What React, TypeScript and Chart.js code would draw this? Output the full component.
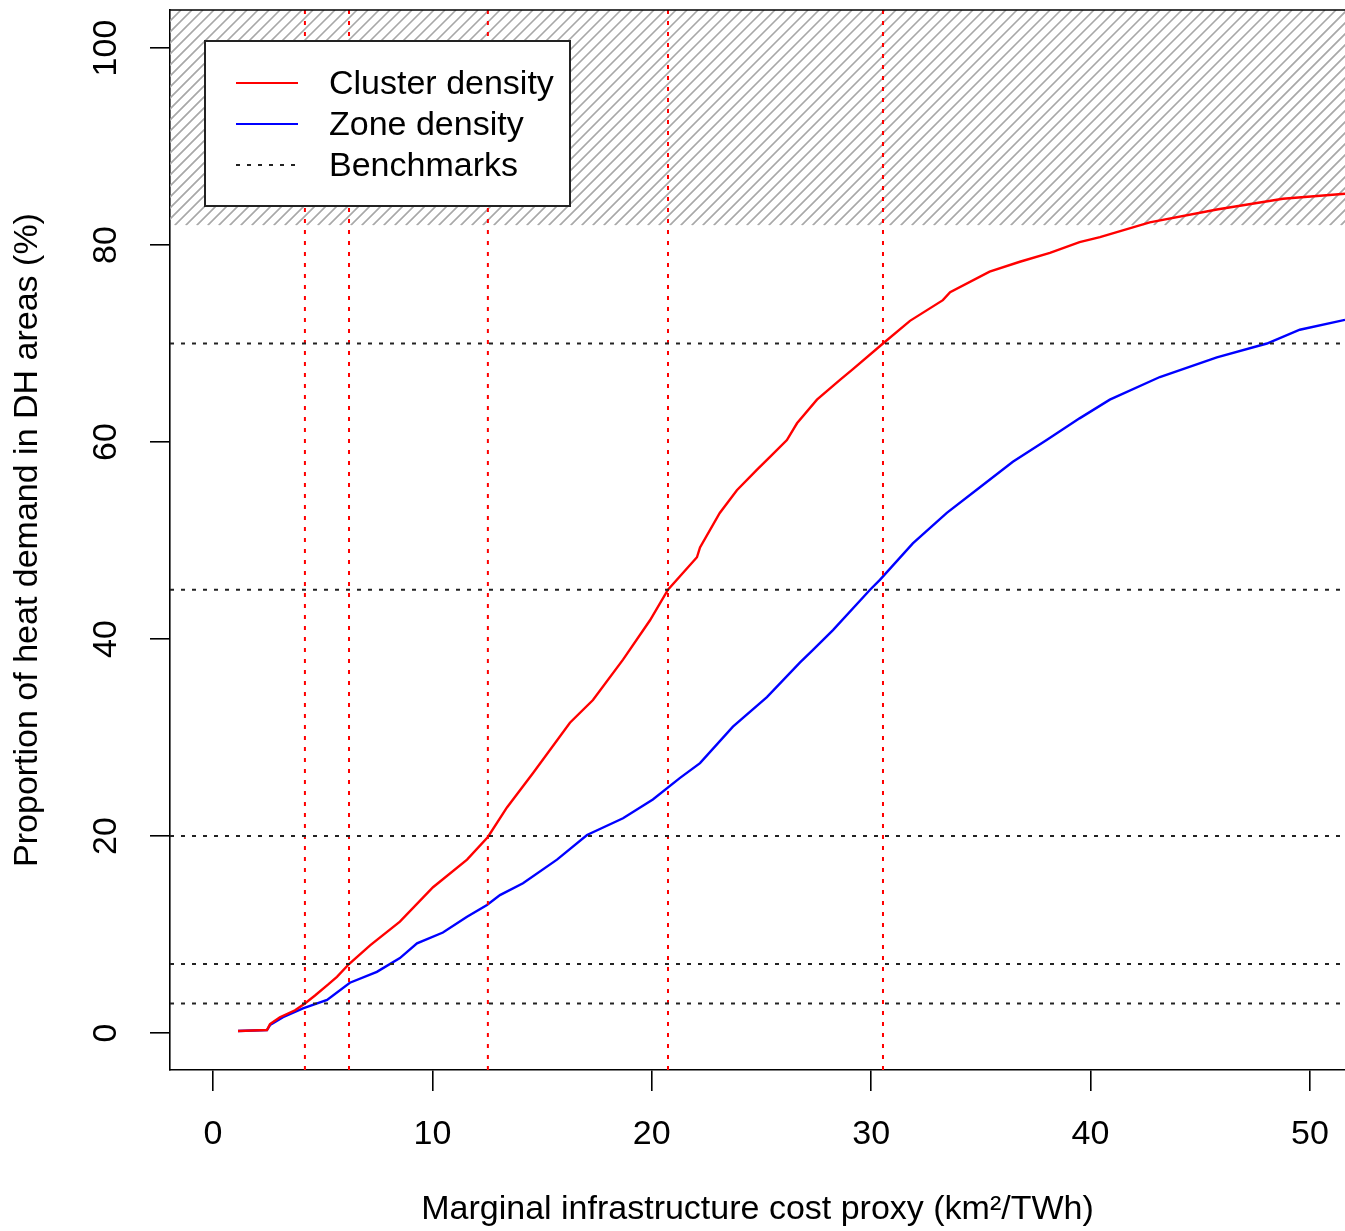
import React, { useEffect, useRef } from "react";
import { Chart, registerables } from "chart.js";

Chart.register(...registerables);

// ---- Data ----
const clusterX = [1.14, 2.46, 2.6, 3.05, 3.74, 4.19, 4.65, 5.24, 5.65, 6.2, 7.16, 8.52, 10.03, 11.58, 12.53, 13.4, 14.59, 16.27, 17.32, 18.69, 19.92, 20.74, 22.06, 22.2, 23.1, 23.88, 24.8, 25.39, 26.16, 26.62, 27.53, 28.58, 29.17, 30.54, 31.77, 33.27, 33.6, 35.4, 36.78, 38.15, 39.5, 40.43, 42.7, 45.76, 48.77, 51.6];
const clusterY = [0.2, 0.3, 0.9, 1.6, 2.3, 3.0, 3.8, 4.9, 5.7, 7.0, 8.9, 11.3, 14.8, 17.6, 19.9, 22.9, 26.4, 31.5, 33.8, 37.9, 41.9, 45.0, 48.3, 49.3, 52.8, 55.1, 57.2, 58.5, 60.2, 61.9, 64.3, 66.3, 67.4, 70.0, 72.3, 74.4, 75.2, 77.3, 78.3, 79.2, 80.3, 80.8, 82.3, 83.6, 84.7, 85.2];

const zoneX = [1.14, 2.46, 2.6, 3.19, 4.1, 5.2, 6.24, 7.47, 8.52, 9.3, 10.48, 11.58, 12.49, 13.08, 14.13, 15.68, 17.05, 18.69, 20.05, 21.29, 22.2, 23.7, 25.25, 26.75, 27.35, 28.26, 29.95, 30.4, 31.9, 33.45, 34.96, 36.46, 38.0, 39.5, 40.88, 43.16, 45.76, 48.04, 49.54, 51.6];
const zoneY = [0.2, 0.3, 0.8, 1.6, 2.5, 3.35, 5.1, 6.2, 7.6, 9.1, 10.2, 11.8, 13.0, 14.0, 15.2, 17.6, 20.1, 21.8, 23.7, 25.9, 27.4, 31.1, 34.1, 37.6, 38.9, 40.9, 45.0, 46.0, 49.7, 52.8, 55.4, 58.0, 60.2, 62.4, 64.3, 66.6, 68.6, 70.0, 71.4, 72.4];

const benchmarkY = [3, 7, 20, 45, 70];
const benchmarkX = [4.19, 6.2, 12.53, 20.74, 30.54];

const xTicks = [0, 10, 20, 30, 40, 50];
const yTicks = [0, 20, 40, 60, 80, 100];
const hatchFrom = 82;

const legendLabels = ["Cluster density", "Zone density", "Benchmarks"];
const xTitle = "Marginal infrastructure cost proxy (km\u00B2/TWh)";
const yTitle = "Proportion of heat demand in DH areas (%)";

const X_MIN = -1.96;
const X_MAX = 51.6;
const Y_MIN = -3.76;
const Y_MAX = 103.86;

const FONT = "'Liberation Sans', Arial, Helvetica, sans-serif";
const FS = 34;

const RED = "#ff0000";
const BLUE = "#0000ff";

function pts(xs: number[], ys: number[]) {
  return xs.map((x, i) => ({ x, y: ys[i] }));
}

const hatchPlugin = {
  id: "hatch",
  beforeDatasetsDraw(chart: any) {
    const { ctx, chartArea } = chart;
    const y0 = chart.scales.y.getPixelForValue(hatchFrom);
    const top = chartArea.top;
    ctx.save();
    ctx.beginPath();
    ctx.rect(chartArea.left, top, chartArea.right - chartArea.left, y0 - top);
    ctx.clip();
    ctx.strokeStyle = "#a8a8a8";
    ctx.lineWidth = 1.6;
    const h = y0 - top;
    const step = 11;
    ctx.beginPath();
    for (let x = chartArea.left - h; x < chartArea.right + step; x += step) {
      ctx.moveTo(x, y0);
      ctx.lineTo(x + h, top);
    }
    ctx.stroke();
    ctx.restore();
  },
};

const framePlugin = {
  id: "frame",
  afterDraw(chart: any) {
    const { ctx, chartArea } = chart;
    ctx.save();
    ctx.strokeStyle = "#000";
    ctx.lineWidth = 1.6;
    ctx.beginPath();
    ctx.moveTo(chartArea.left, chartArea.top);
    ctx.lineTo(chartArea.right, chartArea.top);
    ctx.stroke();

    // legend box
    const lx = chartArea.left + 35;
    const ly = chartArea.top + 31;
    const lw = 365;
    const lh = 165;
    ctx.fillStyle = "#fff";
    ctx.fillRect(lx, ly, lw, lh);
    ctx.strokeStyle = "#222";
    ctx.lineWidth = 2;
    ctx.strokeRect(lx, ly, lw, lh);

    const colors = [RED, BLUE, "#222"];
    const dashes = [[], [], [4, 7]];
    ctx.font = `${FS}px ${FONT}`;
    ctx.textBaseline = "middle";
    ctx.textAlign = "left";
    for (let i = 0; i < legendLabels.length; i++) {
      const yy = ly + 42 + i * 41;
      ctx.strokeStyle = colors[i];
      ctx.lineWidth = 2.2;
      ctx.setLineDash(dashes[i]);
      ctx.beginPath();
      ctx.moveTo(lx + 31, yy);
      ctx.lineTo(lx + 93, yy);
      ctx.stroke();
      ctx.setLineDash([]);
      ctx.fillStyle = "#000";
      ctx.fillText(legendLabels[i], lx + 124, yy + 2);
    }
    ctx.restore();
  },
};

export default function App() {
  const ref = useRef<HTMLCanvasElement | null>(null);

  useEffect(() => {
    if (!ref.current) return;
    const datasets: any[] = [
      {
        label: legendLabels[0],
        data: pts(clusterX, clusterY),
        borderColor: RED,
        borderWidth: 2.4,
        pointRadius: 0,
        tension: 0,
        order: 3,
      },
      {
        label: legendLabels[1],
        data: pts(zoneX, zoneY),
        borderColor: BLUE,
        borderWidth: 2.4,
        pointRadius: 0,
        tension: 0,
        order: 3,
      },
    ];
    benchmarkY.forEach((b) => {
      datasets.push({
        label: "bench-h",
        data: [
          { x: X_MIN, y: b },
          { x: X_MAX, y: b },
        ],
        borderColor: "#222",
        borderWidth: 2,
        borderDash: [4, 7],
        pointRadius: 0,
        order: 1,
      });
    });
    benchmarkX.forEach((v) => {
      datasets.push({
        label: "bench-v",
        data: [
          { x: v, y: Y_MIN },
          { x: v, y: Y_MAX },
        ],
        borderColor: RED,
        borderWidth: 2,
        borderDash: [4, 7],
        pointRadius: 0,
        order: 2,
      });
    });

    const chart = new Chart(ref.current, {
      type: "line",
      data: { datasets },
      plugins: [hatchPlugin, framePlugin],
      options: {
        animation: false,
        responsive: false,
        maintainAspectRatio: false,
        layout: { padding: { top: 10, left: 0, right: 0, bottom: 0 } },
        plugins: {
          legend: { display: false },
          tooltip: { enabled: false },
        },
        scales: {
          x: {
            type: "linear",
            min: X_MIN,
            max: X_MAX,
            afterBuildTicks(scale: any) {
              scale.ticks = xTicks.map((v) => ({ value: v }));
            },
            afterFit(scale: any) {
              scale.height = 161;
              scale.paddingLeft = 0;
              scale.paddingRight = 0;
            },
            grid: {
              display: true,
              drawOnChartArea: false,
              drawTicks: true,
              tickLength: 21,
              color: "#000",
              lineWidth: 1.6,
            },
            border: { display: true, color: "#000", width: 1.6 },
            ticks: {
              color: "#000",
              font: { family: FONT, size: FS },
              padding: 23,
              maxRotation: 0,
              minRotation: 0,
              autoSkip: false,
            },
            title: {
              display: true,
              text: xTitle,
              color: "#000",
              font: { family: FONT, size: FS },
              padding: { top: 0, bottom: 1 },
            },
          },
          y: {
            type: "linear",
            min: Y_MIN,
            max: Y_MAX,
            afterBuildTicks(scale: any) {
              scale.ticks = yTicks.map((v) => ({ value: v }));
            },
            afterFit(scale: any) {
              scale.width = 170;
              scale.paddingTop = 0;
              scale.paddingBottom = 0;
            },
            grid: {
              display: true,
              drawOnChartArea: false,
              drawTicks: true,
              tickLength: 20,
              color: "#000",
              lineWidth: 1.6,
            },
            border: { display: true, color: "#000", width: 1.6 },
            ticks: {
              color: "#000",
              font: { family: FONT, size: FS },
              padding: 15,
              minRotation: 90,
              maxRotation: 90,
              crossAlign: "center",
              autoSkip: false,
            },
            title: {
              display: true,
              text: yTitle,
              color: "#000",
              font: { family: FONT, size: FS },
              padding: { top: 7, bottom: 0 },
            },
          },
        },
      } as any,
    });
    return () => chart.destroy();
  }, []);

  return (
    <div style={{ position: "absolute", left: 0, top: 0, width: 1345, height: 1231, background: "#fff" }}>
      <canvas ref={ref} width={1345} height={1231} style={{ display: "block", width: 1345, height: 1231 }} />
    </div>
  );
}
